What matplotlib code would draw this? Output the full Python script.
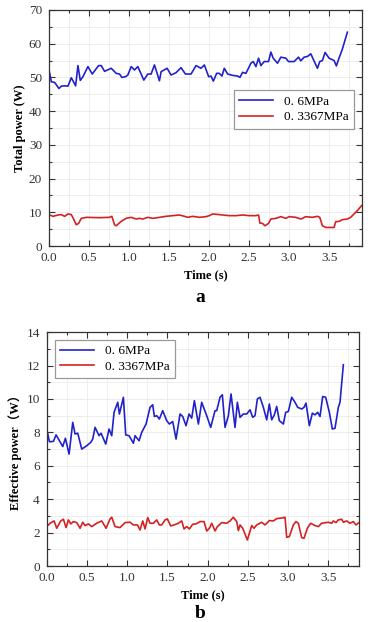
import matplotlib
matplotlib.use("Agg")
import matplotlib.pyplot as plt
from matplotlib.ticker import MultipleLocator

# ---- Data ----
# Panel a: total power
ta_blue_px = [148,155,165,178,185,195,205,215,228,235,242,250,265,278,297,305,315,335,350,360,367,378,385,395,405,415,433,445,455,465,480,485,503,515,530,545,558,575,590,605,615,628,635,642,652,660,668,675,685,700,715,722,730,740,755,762,770,778,785,795,808,815,822,835,845,860,868,885,898,905,915,925,935,955,962,970,978,990,1005,1012,1018,1030,1045]
pa_blue = [52.2,48.7,48.5,46.7,47.4,47.5,47.4,49.9,47.5,53.5,49.1,50.2,53.2,51.0,53.5,53.5,51.8,52.7,51.2,51.0,50.0,50.2,50.7,53.2,52.2,53.2,49.2,51.0,51.0,53.7,49.0,51.7,52.7,50.7,51.4,52.9,51.0,51.0,53.5,52.7,53.7,50.2,50.4,48.9,51.2,51.2,50.4,52.7,51.0,50.6,50.4,50.0,51.5,51.2,54.2,54.7,53.2,55.7,53.5,54.7,54.7,57.5,55.7,54.2,56.0,55.7,54.7,54.7,56.0,54.9,56.0,56.2,57.0,52.7,54.7,55.0,57.4,55.7,55.0,53.4,55.2,58.4,63.4]
ta_red_px = [148,160,175,185,195,205,215,222,230,237,245,260,300,330,337,345,350,365,380,395,410,420,430,445,460,480,500,520,540,555,565,580,600,620,630,640,660,690,710,730,750,770,778,782,790,797,808,815,830,845,860,870,890,905,920,940,955,962,970,980,1005,1010,1020,1030,1045,1055,1065,1075,1088]
pa_red = [9.3,8.8,9.2,9.3,8.8,9.5,9.3,8.0,6.3,6.7,8.2,8.5,8.4,8.5,8.8,6.3,6.0,7.3,8.2,8.5,8.0,8.2,8.0,8.5,8.2,8.5,8.8,9.0,9.2,8.8,8.5,8.8,8.5,8.7,9.0,9.5,9.3,9.0,9.0,9.2,9.0,9.0,9.2,6.8,6.7,6.0,6.7,8.0,8.2,8.7,8.2,8.7,8.5,8.0,8.7,8.5,8.8,8.5,6.0,5.5,5.5,7.2,7.3,7.8,8.0,8.5,9.5,10.5,12.0]
time_a_blue = [(x - 148) / 240.6 for x in ta_blue_px]
time_a_red = [(x - 148) / 240.6 for x in ta_red_px]

# Panel b: effective power
tb_blue_px = [140,148,160,168,188,196,207,218,225,233,245,260,272,278,285,297,303,317,327,335,342,353,358,370,377,387,400,405,417,425,438,450,458,463,470,478,488,500,508,518,528,540,548,558,567,575,583,595,605,620,632,645,650,660,667,675,685,693,705,712,720,730,740,750,758,765,772,780,790,800,808,815,823,830,838,850,857,865,875,885,893,905,912,918,928,937,945,953,960,968,977,988,997,1005,1015,1020,1030]
pb_blue = [8.2,7.44,7.46,7.85,7.15,7.65,6.7,8.6,7.9,7.95,7.0,7.2,7.4,7.6,8.3,7.8,7.95,7.3,8.2,7.8,9.2,9.8,9.1,10.1,7.85,7.8,7.35,7.8,7.5,8.0,8.5,9.5,9.65,8.95,9.0,8.8,9.3,8.7,8.5,8.65,7.6,9.1,8.95,8.4,9.1,8.85,9.9,8.5,9.8,9.0,8.3,9.3,9.3,10.1,10.25,8.3,9.0,10.3,8.3,9.8,8.9,9.1,9.1,9.35,8.9,9.0,10.0,10.1,9.5,8.75,9.7,8.75,9.05,9.55,8.7,8.5,9.2,9.25,10.1,9.8,9.5,9.4,9.5,9.75,8.4,9.15,9.05,9.2,8.95,10.15,10.1,9.2,8.2,8.25,9.5,9.8,12.05]
tb_red_px = [140,150,162,170,182,190,198,205,212,220,230,240,248,255,265,275,290,305,318,330,335,345,360,375,390,400,412,420,428,435,443,450,460,470,478,485,495,502,512,522,535,545,552,560,568,578,588,600,612,620,628,635,645,652,665,680,690,700,710,715,720,728,742,755,762,770,785,795,808,820,830,848,855,860,868,880,888,895,905,912,922,932,945,955,965,985,995,1000,1008,1015,1025,1030,1040,1050,1060,1068,1078]
pb_red = [2.36,2.56,2.7,2.26,2.7,2.8,2.3,2.76,2.52,2.66,2.6,2.26,2.62,2.42,2.52,2.36,2.56,2.7,2.26,2.82,2.92,2.36,2.3,2.6,2.62,2.46,2.46,2.16,2.7,2.22,2.9,2.56,2.56,2.76,2.46,2.46,2.76,2.82,2.4,2.46,2.56,2.7,2.22,2.36,2.22,2.5,2.52,2.66,2.66,2.1,2.26,2.56,2.1,2.36,2.6,2.56,2.7,2.92,2.66,2.12,2.46,2.26,1.56,2.42,2.26,2.46,2.62,2.46,2.72,2.7,2.84,2.88,2.92,1.72,1.76,2.46,2.66,2.56,1.7,1.66,2.26,2.56,2.42,2.36,2.56,2.62,2.56,2.7,2.6,2.76,2.8,2.62,2.7,2.56,2.66,2.46,2.62]
time_b_blue = [(x - 140) / 241.4 for x in tb_blue_px]
time_b_red = [(x - 140) / 241.4 for x in tb_red_px]

series_labels = ["0. 6MPa", "0. 3367MPa"]
x_ticks = [0.0, 0.5, 1.0, 1.5, 2.0, 2.5, 3.0, 3.5]

BLUE = "#2222cc"
RED = "#d42222"
SERIF = "Liberation Serif"

fig = plt.figure(figsize=(3.77, 6.22), dpi=100)
ax1 = fig.add_axes([0.130, 0.6045, 0.830, 0.3795])
ax2 = fig.add_axes([0.124, 0.090, 0.829, 0.376])

def style(ax, ylim, ymaj, ymin, xlim):
    ax.set_xlim(*xlim)
    ax.set_ylim(*ylim)
    ax.set_xticks(x_ticks)
    ax.set_xticklabels([f"{v:.1f}" for v in x_ticks])
    ax.xaxis.set_minor_locator(MultipleLocator(0.25))
    ax.yaxis.set_major_locator(MultipleLocator(ymaj))
    ax.yaxis.set_minor_locator(MultipleLocator(ymin))
    ax.tick_params(which="both", direction="in", top=True, right=True,
                   labelsize=9.5, colors="#333333", width=0.8)
    ax.tick_params(which="major", length=4)
    ax.tick_params(which="minor", length=2.5)
    ax.tick_params(axis="y", pad=5)
    ax.tick_params(axis="x", pad=4)
    for lab in ax.get_xticklabels() + ax.get_yticklabels():
        lab.set_fontfamily(SERIF)
    ax.grid(True, which="both", color="#ebebeb", linewidth=0.6)
    ax.set_axisbelow(True)
    for s in ax.spines.values():
        s.set_color("#333333")
        s.set_linewidth(0.9)

style(ax1, (0, 70), 10, 5, (0, 3.91))
style(ax2, (0, 14), 2, 1, (0, 3.885))

ax1.plot(time_a_blue, pa_blue, color=BLUE, lw=1.2, label=series_labels[0])
ax1.plot(time_a_red, pa_red, color=RED, lw=1.2, label=series_labels[1])
ax2.plot(time_b_blue, pb_blue, color=BLUE, lw=1.2, label=series_labels[0])
ax2.plot(time_b_red, pb_red, color=RED, lw=1.2, label=series_labels[1])

leg_kw = dict(prop={"family": SERIF, "size": 9.5}, fancybox=False,
              edgecolor="#999999", framealpha=1, handlelength=2.6,
              borderpad=0.4, labelspacing=0.25)
l1 = ax1.legend(loc="upper right", bbox_to_anchor=(0.995, 0.688), **leg_kw)
l2 = ax2.legend(loc="upper left", bbox_to_anchor=(0.005, 0.995), **leg_kw)
for l in (l1, l2):
    l.get_frame().set_linewidth(0.9)

ax1.set_ylabel("Total power (W)", fontfamily=SERIF, fontweight="bold", fontsize=9, labelpad=2)
ax2.set_ylabel("Effective power\uff08W\uff09", fontfamily=[SERIF, "Noto Sans CJK SC"],
               fontweight="bold", fontsize=9, labelpad=3)
ax1.set_xlabel("Time (s)", fontfamily=SERIF, fontweight="bold", fontsize=9, labelpad=4)
ax2.set_xlabel("Time (s)", fontfamily=SERIF, fontweight="bold", fontsize=9, labelpad=4)

fig.text(0.532, 1 - 297 / 622, "a", ha="center", va="center",
         fontfamily=SERIF, fontweight="bold", fontsize=14)
fig.text(0.532, 1 - 613 / 622, "b", ha="center", va="center",
         fontfamily=SERIF, fontweight="bold", fontsize=14)

fig.savefig("out.png", dpi=100)
